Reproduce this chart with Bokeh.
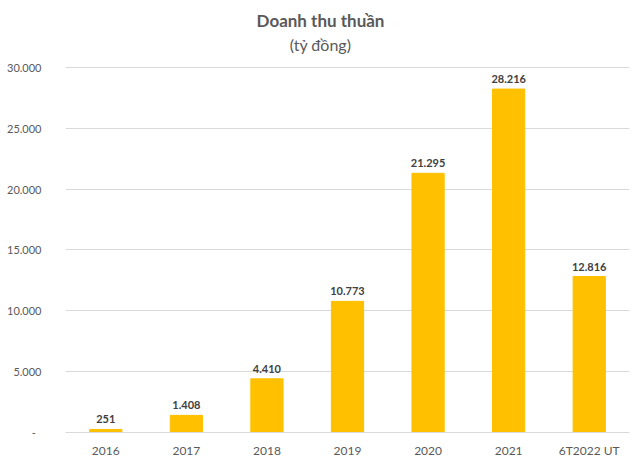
from bokeh.plotting import figure
from bokeh.models import ColumnDataSource, Range1d, FixedTicker, Label, LabelSet
from bokeh.core.properties import value
from bokeh.embed import file_html
from bokeh.resources import INLINE

categories = ["2016", "2017", "2018", "2019", "2020", "2021", "6T2022 UT"]
values = [251, 1408, 4410, 10773, 21295, 28216, 12816]
y_ticks = [0, 5000, 10000, 15000, 20000, 25000, 30000]
y_tick_labels = ["-  ", "5.000", "10.000", "15.000", "20.000", "25.000", "30.000"]
title_main = "Doanh thu thuần"
title_sub = "(tỷ đồng)"

labels = ["{:,}".format(v).replace(",", ".") for v in values]
src = ColumnDataSource(dict(cat=categories, val=values, lab=labels))

FONT = "Lato"
W, H = 640, 460
LEFT, RIGHT, BOTTOM = 65, 11, 27
AXIS_TOP_PX = 67          # pixel row of the 30.000 gridline
frame_h = H - BOTTOM      # frame reaches the top of the canvas
px_per_unit = (frame_h - AXIS_TOP_PX) / y_ticks[-1]
y_end = frame_h / px_per_unit

p = figure(x_range=categories, y_range=Range1d(0, y_end), width=W, height=H,
           output_backend="svg", toolbar_location=None,
           min_border_left=LEFT, min_border_right=RIGHT, min_border_bottom=BOTTOM,
           min_border_top=0)
p.outline_line_color = None
p.background_fill_color = "white"

p.vbar(x="cat", top="val", width=0.4, source=src, color="#FFC000")

p.add_layout(LabelSet(x="cat", y="val", text="lab", source=src, y_offset=6,
                      text_align="center", text_baseline="bottom",
                      text_font=value(FONT), text_font_style="bold",
                      text_font_size="11px", text_color="#404040"))

# titles: centred on the canvas (canvas centre = frame centre - offset)
frame_w = W - LEFT - RIGHT
x_mid = len(categories) / 2
dx = (W / 2) - (LEFT + frame_w / 2)
p.add_layout(Label(x=x_mid, y=(frame_h - 20) / px_per_unit, x_offset=dx,
                   text=title_main, text_align="center", text_baseline="middle",
                   text_font=FONT, text_font_style="bold",
                   text_font_size="17px", text_color="#595959"))
p.add_layout(Label(x=x_mid, y=(frame_h - 44) / px_per_unit, x_offset=dx,
                   text=title_sub, text_align="center", text_baseline="middle",
                   text_font=FONT, text_font_style="normal",
                   text_font_size="16px", text_color="#595959"))

p.yaxis.ticker = FixedTicker(ticks=y_ticks)
p.yaxis.major_label_overrides = {t: l for t, l in zip(y_ticks, y_tick_labels)}
p.yaxis.axis_line_color = None
p.yaxis.major_tick_line_color = None
p.yaxis.minor_tick_line_color = None
p.yaxis.major_label_standoff = 18
p.yaxis.major_label_text_font = FONT
p.yaxis.major_label_text_font_size = "11px"
p.yaxis.major_label_text_color = "#595959"

p.xaxis.axis_line_color = "#D9D9D9"
p.xaxis.major_tick_line_color = None
p.xaxis.minor_tick_line_color = None
p.xaxis.major_label_standoff = 4
p.xaxis.major_label_text_font = FONT
p.xaxis.major_label_text_font_size = "12px"
p.xaxis.major_label_text_color = "#595959"

p.xgrid.grid_line_color = None
p.ygrid.grid_line_color = "#D9D9D9"
p.x_range.range_padding = 0.0

open("out.html", "w").write(file_html(p, INLINE))
